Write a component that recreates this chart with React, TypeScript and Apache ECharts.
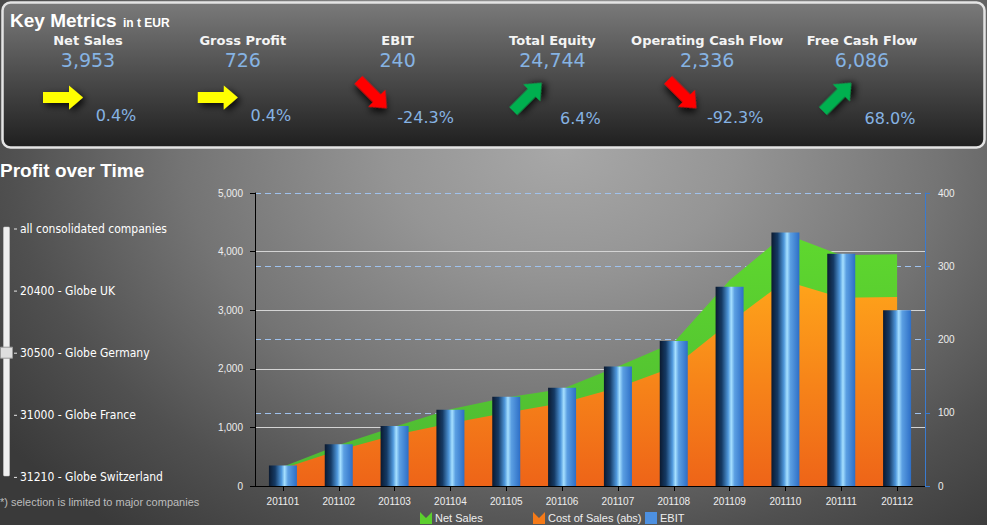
import React, { useEffect, useRef } from 'react';
import * as echarts from 'echarts';

// ---------- data ----------
const months = ['201101', '201102', '201103', '201104', '201105', '201106', '201107', '201108', '201109', '201110', '201111', '201112'];
const netSales = [330, 700, 1010, 1310, 1510, 1655, 2040, 2450, 3510, 4300, 3937, 3953];
const costOfSales = [300, 610, 870, 1070, 1250, 1415, 1680, 2030, 2790, 3500, 3214, 3227];
const ebit = [28, 57, 82, 104, 122, 134, 163, 198, 272, 346, 317, 240];

const leftAxisMax = 5000;
const leftAxisStep = 1000;
const rightAxisMax = 400;
const rightAxisStep = 100;

const kpiNames = ['Net Sales', 'Gross Profit', 'EBIT', 'Total Equity', 'Operating Cash Flow', 'Free Cash Flow'];
const kpiValues = [3953, 726, 240, 24744, 2336, 6086];
const kpiChanges = [0.4, 0.4, -24.3, 6.4, -92.3, 68.0];
const kpiTrends = ['flat', 'flat', 'down', 'up', 'down', 'up'];

const companies = ['all consolidated companies', '20400 - Globe UK', '30500 - Globe Germany', '31000 - Globe France', '31210 - Globe Switzerland'];
const selectedCompany = 2;

// ---------- styling ----------
const SANS = '"Liberation Sans", Arial, sans-serif';
const VERD = '"DejaVu Sans", Verdana, sans-serif';
const TAHOMA = '"DejaVu Sans Condensed", "Liberation Sans", Arial, sans-serif';

const arrowColor: Record<string, string> = { flat: '#ffff00', down: '#ff0000', up: '#00b050' };
const arrowRot: Record<string, number> = { flat: 0, down: -Math.PI / 4, up: Math.PI / 4 };
const arrowY: Record<string, number> = { flat: 97.5, down: 94, up: 97 };
const pctY: Record<string, number> = { flat: 115, down: 117, up: 118.5 };

function buildGraphics(): any[] {
  const els: any[] = [];
  // top panel
  els.push({
    type: 'rect',
    silent: true,
    shape: { x: 2.5, y: 2.5, width: 982, height: 145, r: 8 },
    style: {
      fill: new echarts.graphic.LinearGradient(0, 0, 0, 1, [
        { offset: 0, color: '#7a7a7a' },
        { offset: 1, color: '#1f1f1f' },
      ]),
      stroke: '#e4e4e4',
      lineWidth: 2.5,
    },
  });
  els.push({
    type: 'text', x: 10, y: 20,
    style: { text: 'Key Metrics', fill: '#ffffff', font: `bold 19px ${SANS}`, textAlign: 'left', textVerticalAlign: 'middle' },
  });
  els.push({
    type: 'text', x: 123, y: 22.5,
    style: { text: 'in t EUR', fill: '#ffffff', font: `bold 12px ${SANS}`, textAlign: 'left', textVerticalAlign: 'middle' },
  });
  kpiNames.forEach((name, i) => {
    const cx = 88 + i * 154.8;
    const trend = kpiTrends[i];
    els.push({
      type: 'text', x: cx, y: 40.5,
      style: { text: name, fill: '#f4f4f4', font: `bold 13px ${VERD}`, textAlign: 'center', textVerticalAlign: 'middle' },
    });
    els.push({
      type: 'text', x: cx, y: 60,
      style: { text: kpiValues[i].toLocaleString('en-US'), fill: '#86b3e3', font: `19px ${VERD}`, textAlign: 'center', textVerticalAlign: 'middle' },
    });
    els.push({
      type: 'polygon',
      x: cx - 25,
      y: arrowY[trend],
      rotation: arrowRot[trend],
      shape: { points: [[-20, -5.5], [6, -5.5], [6, -12], [20, 0], [6, 12], [6, 5.5], [-20, 5.5]] },
      style: {
        fill: arrowColor[trend],
        shadowBlur: 7,
        shadowColor: 'rgba(0,0,0,0.85)',
        shadowOffsetX: 3,
        shadowOffsetY: 3,
      },
    });
    els.push({
      type: 'text', x: cx + 28, y: pctY[trend],
      style: { text: kpiChanges[i].toFixed(1) + '%', fill: '#86b3e3', font: `16px ${VERD}`, textAlign: 'center', textVerticalAlign: 'middle' },
    });
  });
  // Profit over time title
  els.push({
    type: 'text', x: 0, y: 170,
    style: { text: 'Profit over Time', fill: '#ffffff', font: `bold 19px ${SANS}`, textAlign: 'left', textVerticalAlign: 'middle' },
  });
  // slider
  els.push({
    type: 'rect', silent: true,
    shape: { x: 3.5, y: 227, width: 6, height: 249, r: 1 },
    style: { fill: '#efefef', stroke: '#d0d0d0', lineWidth: 0.5 },
  });
  companies.forEach((c, i) => {
    const y = 229 + i * 62.1;
    els.push({
      type: 'line', silent: true,
      shape: { x1: 14, y1: y, x2: 17, y2: y },
      style: { stroke: '#e8e8e8', lineWidth: 1 },
    });
    els.push({
      type: 'text', x: 20, y,
      style: { text: c, fill: '#ffffff', font: `12px ${TAHOMA}`, textAlign: 'left', textVerticalAlign: 'middle' },
    });
    if (i === selectedCompany) {
      els.push({
        type: 'rect', silent: true,
        shape: { x: 0.5, y: y - 6, width: 12, height: 11 },
        style: { fill: '#dedede', stroke: '#9a9a9a', lineWidth: 1 },
      });
    }
  });
  els.push({
    type: 'text', x: 0, y: 501.5,
    style: { text: '*) selection is limited to major companies', fill: '#bdbdbd', font: `11px ${SANS}`, textAlign: 'left', textVerticalAlign: 'middle' },
  });
  return els;
}

const vIcon = 'path://M0,0 L6,6 L12,0 L12,12 L0,12 Z';

function legendFor(name: string, left: number, icon: string, color: string) {
  return {
    left,
    top: 512,
    padding: 0,
    itemWidth: 12,
    itemHeight: 12,
    itemGap: 0,
    selectedMode: false,
    data: [{ name, icon, itemStyle: { color } }],
    textStyle: { color: '#eeeeee', fontSize: 11, fontFamily: SANS, padding: [0, 0, 0, -2] },
  };
}

export default function App() {
  const ref = useRef<HTMLDivElement>(null);
  useEffect(() => {
    document.body.style.margin = '0';
    if (!ref.current) return;
    const chart = echarts.init(ref.current, undefined, { renderer: 'svg' });
    const barGradient = new echarts.graphic.LinearGradient(0, 0, 1, 0, [
      { offset: 0, color: '#0b1a30' },
      { offset: 0.22, color: '#153a64' },
      { offset: 0.45, color: '#4f98dc' },
      { offset: 0.56, color: '#a6e0ff' },
      { offset: 0.68, color: '#5b9fe2' },
      { offset: 1, color: '#2d6ec6' },
    ]);
    const option: any = {
      animation: false,
      backgroundColor: 'transparent',
      grid: { left: 255, right: 62, top: 193, bottom: 39, containLabel: false },
      graphic: { elements: buildGraphics() },
      legend: [
        legendFor('Net Sales', 420, vIcon, '#5ccf2e'),
        legendFor('Cost of Sales (abs)', 533, vIcon, '#f57a18'),
        legendFor('EBIT', 645, 'rect', '#4d90e0'),
      ],
      xAxis: {
        type: 'category',
        data: months,
        boundaryGap: true,
        axisLine: { show: true, lineStyle: { color: '#000000', width: 1 } },
        axisTick: { show: true, alignWithLabel: true, length: 5, lineStyle: { color: '#000000' } },
        axisLabel: { color: '#eeeeee', fontSize: 10, fontFamily: SANS, margin: 10 },
        splitLine: { show: false },
      },
      yAxis: [
        {
          type: 'value',
          position: 'left',
          min: 0,
          max: leftAxisMax,
          interval: leftAxisStep,
          axisLine: { show: true, lineStyle: { color: '#000000', width: 1 } },
          axisTick: { show: true, length: 5, lineStyle: { color: '#000000' } },
          axisLabel: {
            color: '#eeeeee', fontSize: 10, fontFamily: SANS, margin: 12,
            formatter: (v: number) => v.toLocaleString('en-US'),
          },
          splitLine: { show: true, showMaxLine: false, lineStyle: { color: '#d4d4d4', width: 1 } },
        },
        {
          type: 'value',
          position: 'right',
          min: 0,
          max: rightAxisMax,
          interval: rightAxisStep,
          axisLine: { show: true, lineStyle: { color: '#3a7bd0', width: 1 } },
          axisTick: { show: true, length: 5, lineStyle: { color: '#3a7bd0' } },
          axisLabel: { color: '#eeeeee', fontSize: 10, fontFamily: SANS, margin: 13 },
          splitLine: { show: true, showMinLine: false, lineStyle: { color: '#9fc2ee', width: 1, type: [6, 4] } },
        },
      ],
      series: [
        {
          name: 'Net Sales',
          type: 'line',
          data: netSales,
          symbol: 'none',
          lineStyle: { width: 0 },
          itemStyle: { color: '#5ccf2e' },
          areaStyle: {
            opacity: 1,
            color: new echarts.graphic.LinearGradient(0, 0, 0, 1, [
              { offset: 0, color: '#5fd82e' },
              { offset: 1, color: '#4cb734' },
            ]),
          },
          z: 1,
        },
        {
          name: 'Cost of Sales (abs)',
          type: 'line',
          data: costOfSales,
          symbol: 'none',
          lineStyle: { width: 0 },
          itemStyle: { color: '#f57a18' },
          areaStyle: {
            opacity: 1,
            color: new echarts.graphic.LinearGradient(0, 0, 0, 1, [
              { offset: 0, color: '#ffa41a' },
              { offset: 1, color: '#ee6418' },
            ]),
          },
          z: 1,
        },
        {
          name: 'EBIT',
          type: 'bar',
          yAxisIndex: 1,
          data: ebit,
          barWidth: 28,
          itemStyle: { color: barGradient },
          z: 3,
        },
      ],
    };
    chart.setOption(option);
    return () => chart.dispose();
  }, []);
  return (
    <div
      ref={ref}
      style={{
        position: 'absolute',
        left: 0,
        top: 0,
        width: 987,
        height: 525,
        background:
          'radial-gradient(ellipse 70% 95% at 57% 28%, #a8a8a8 0%, #959595 25%, #747474 55%, #505050 80%, #3a3a3a 100%)',
      }}
    />
  );
}
